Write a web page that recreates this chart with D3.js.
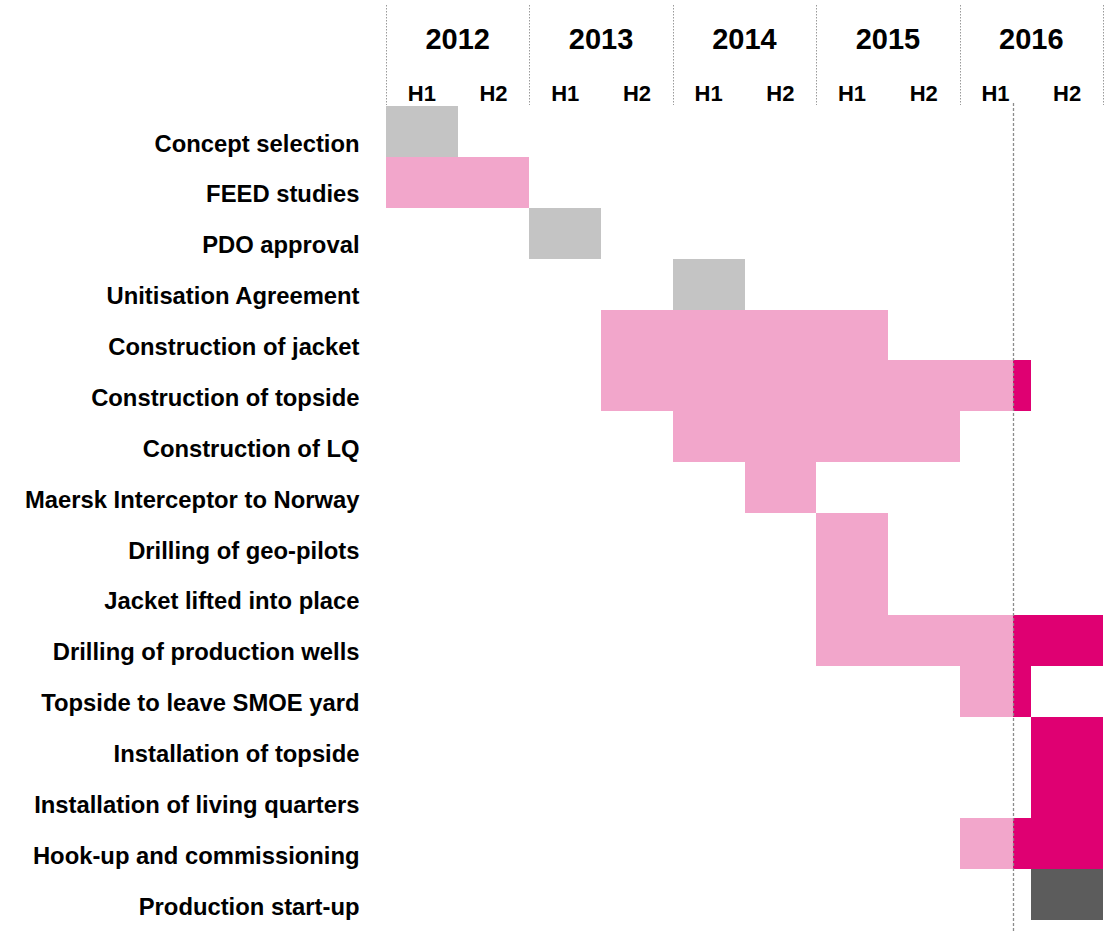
<!DOCTYPE html>
<html>
<head>
<meta charset="utf-8">
<script src="https://cdn.jsdelivr.net/npm/d3@7"></script>
<style>
  body { margin: 0; background: #fff; }
  svg text { font-family: "Liberation Sans", Arial, sans-serif; font-weight: bold; fill: #000; }
</style>
</head>
<body>
<svg id="chart" width="1109" height="931"></svg>
<script>
// Years across the top, each split in two halves
let years = ["2012", "2013", "2014", "2015", "2016"];
let halves = ["H1", "H2"];

// Project milestones, top to bottom
let tasks = [
  "Concept selection",
  "FEED studies",
  "PDO approval",
  "Unitisation Agreement",
  "Construction of jacket",
  "Construction of topside",
  "Construction of LQ",
  "Maersk Interceptor to Norway",
  "Drilling of geo-pilots",
  "Jacket lifted into place",
  "Drilling of production wells",
  "Topside to leave SMOE yard",
  "Installation of topside",
  "Installation of living quarters",
  "Hook-up and commissioning",
  "Production start-up",
];

// Bars: [task index, start, end, kind]; start/end counted in half-years from 2012 H1
let bars = [
  [0, 0, 1, "decision"],
  [1, 0, 2, "done"],
  [2, 2, 3, "decision"],
  [3, 4, 5, "decision"],
  [4, 3, 7, "done"],
  [5, 3, 8.75, "done"],
  [5, 8.75, 9, "planned"],
  [6, 4, 8, "done"],
  [7, 5, 6, "done"],
  [8, 6, 7, "done"],
  [9, 6, 7, "done"],
  [10, 6, 8.75, "done"],
  [10, 8.75, 10, "planned"],
  [11, 8, 8.75, "done"],
  [11, 8.75, 9, "planned"],
  [12, 9, 10, "planned"],
  [13, 9, 10, "planned"],
  [14, 8, 8.75, "done"],
  [14, 8.75, 10, "planned"],
  [15, 9, 10, "startup"],
];

// Where we are now (in half-years)
let today = 8.75;

let colors = {
  decision: "#c4c4c4",
  done: "#f2a6cb",
  planned: "#df0072",
  startup: "#5c5c5c",
};

let svg = d3.select("#chart");

let x = d3.scaleLinear().domain([0, years.length * 2]).range([386, 1103]);
let y = d3.scaleBand().domain(d3.range(tasks.length)).range([106, 920]).padding(0);
let half = x(1) - x(0);

// year separators in the header (dotted)
svg.append("g")
  .selectAll("line")
  .data(d3.range(years.length + 1))
  .enter()
  .append("line")
  .attr("x1", function (d) { return Math.round(x(d * 2)) + 0.5; })
  .attr("x2", function (d) { return Math.round(x(d * 2)) + 0.5; })
  .attr("y1", 5)
  .attr("y2", 105)
  .attr("stroke", "#9a9a9a")
  .attr("stroke-width", 1)
  .attr("stroke-dasharray", "1.5,1.5");

// year labels
svg.append("g")
  .selectAll("text")
  .data(years)
  .enter()
  .append("text")
  .attr("x", function (d, i) { return x(i * 2 + 1); })
  .attr("y", 49)
  .attr("text-anchor", "middle")
  .style("font-size", "29px")
  .text(function (d) { return d; });

// half-year labels
let halfData = [];
years.forEach(function (yr, i) {
  halves.forEach(function (h, j) { halfData.push({ pos: i * 2 + j, label: h }); });
});

svg.append("g")
  .selectAll("text")
  .data(halfData)
  .enter()
  .append("text")
  .attr("x", function (d) { return x(d.pos) + half / 2; })
  .attr("y", 101)
  .attr("text-anchor", "middle")
  .style("font-size", "22px")
  .text(function (d) { return d.label; });

// bars
svg.append("g")
  .selectAll("rect")
  .data(bars)
  .enter()
  .append("rect")
  .attr("x", function (d) { return x(d[1]); })
  .attr("y", function (d) { return y(d[0]); })
  .attr("width", function (d) { return x(d[2]) - x(d[1]); })
  .attr("height", y.bandwidth())
  .attr("fill", function (d) { return colors[d[3]]; })
  .attr("shape-rendering", "crispEdges");

// task labels
svg.append("g")
  .selectAll("text")
  .data(tasks)
  .enter()
  .append("text")
  .attr("x", 359.5)
  .attr("y", function (d, i) { return y(i) + 45.5; })
  .attr("text-anchor", "end")
  .style("font-size", "23.8px")
  .text(function (d) { return d; });

// "today" line
svg.append("line")
  .attr("x1", Math.round(x(today)) + 0.5)
  .attr("x2", Math.round(x(today)) + 0.5)
  .attr("y1", 103)
  .attr("y2", 931)
  .attr("stroke", "#8c8c8c")
  .attr("stroke-width", 1.3)
  .attr("stroke-dasharray", "3,2");
</script>
</body>
</html>
